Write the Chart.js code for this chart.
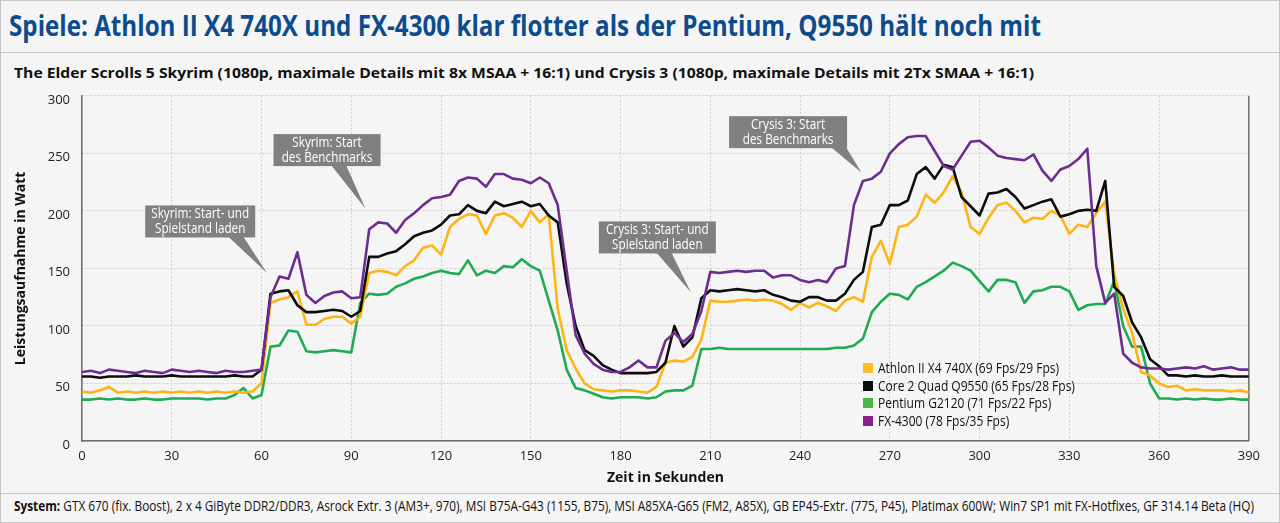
<!DOCTYPE html>
<html lang="de">
<head>
<meta charset="UTF-8">
<title>Leistungsaufnahme in Spielen</title>
<script src="https://cdn.jsdelivr.net/npm/chart.js@4"></script>
<style>
  html, body { margin:0; padding:0; }
  body { width:1280px; height:523px; background:#f5f5f5; font-family:'Open Sans', sans-serif; overflow:hidden; position:relative; }
  .frame { position:absolute; left:0; top:0; width:1278px; height:521px; border:1px solid #c6c6c6; }
  .rule { position:absolute; left:0; width:1280px; height:1px; background:#c6c6c6; }
  .fit { position:absolute; white-space:nowrap; transform-origin:0 0; display:inline-block; }
  #title { left:9px; top:5px; font-weight:700; font-size:29px; line-height:40px; color:#0c4b8c; }
  #subtitle { left:14px; top:62px; font-weight:700; font-size:15px; line-height:20px; color:#111; }
  #footer { left:14px; top:496px; font-size:14px; line-height:20px; color:#111; }
  #footer b { font-weight:700; }
  #chartBox { position:absolute; left:0; top:76px; width:1267px; height:414px; }
  #legend { position:absolute; left:863px; top:359px; font-size:14px; color:#111; }
  #legend .row { height:17.7px; line-height:17.7px; white-space:nowrap; position:relative; }
  #legend .sw { position:absolute; left:0; top:4px; width:10px; height:10px; }
  #legend .txt { position:absolute; left:15px; top:0; display:inline-block; transform-origin:0 50%; }
</style>
</head>
<body>
<div class="frame"></div>
<div class="rule" style="top:52px"></div>
<div class="rule" style="top:493px"></div>
<div id="title" class="fit">Spiele: Athlon II X4 740X und FX-4300 klar flotter als der Pentium, Q9550 hält noch mit</div>
<div id="subtitle" class="fit">The Elder Scrolls 5 Skyrim (1080p, maximale Details mit 8x MSAA + 16:1) und Crysis 3 (1080p, maximale Details mit 2Tx SMAA + 16:1)</div>
<div id="chartBox"><canvas id="chart" width="1267" height="414"></canvas></div>
<div id="legend"></div>
<div id="footer" class="fit"><b>System:</b> GTX 670 (fix. Boost), 2 x 4 GiByte DDR2/DDR3, Asrock Extr. 3 (AM3+, 970), MSI B75A-G43 (1155, B75), MSI A85XA-G65 (FM2, A85X), GB EP45-Extr. (775, P45), Platimax 600W; Win7 SP1 mit FX-Hotfixes, GF 314.14 Beta (HQ)</div>

<script>
const times = [
  0, 3, 6, 9, 12, 15, 18, 21, 24, 27,
  30, 33, 36, 39, 42, 45, 48, 51, 54, 57,
  60, 63, 66, 69, 72, 75, 78, 81, 84, 87,
  90, 93, 96, 99, 102, 105, 108, 111, 114, 117,
  120, 123, 126, 129, 132, 135, 138, 141, 144, 147,
  150, 153, 156, 159, 162, 165, 168, 171, 174, 177,
  180, 183, 186, 189, 192, 195, 198, 201, 204, 207,
  210, 213, 216, 219, 222, 225, 228, 231, 234, 237,
  240, 243, 246, 249, 252, 255, 258, 261, 264, 267,
  270, 273, 276, 279, 282, 285, 288, 291, 294, 297,
  300, 303, 306, 309, 312, 315, 318, 321, 324, 327,
  330, 333, 336, 339, 342, 345, 348, 351, 354, 357,
  360, 363, 366, 369, 372, 375, 378, 381, 384, 387,
  390
];

const athlon = [
  43, 42, 44, 47, 42, 43, 42, 43, 42, 43,
  42, 43, 42, 43, 42, 43, 42, 43, 42, 43,
  50, 120, 123, 125, 130, 101, 101, 106, 108, 108,
  102, 108, 146, 148, 147, 144, 152, 157, 168, 170,
  162, 186, 193, 197, 196, 180, 196, 198, 194, 186,
  200, 190, 197, 115, 79, 63, 50, 45, 44, 43,
  44, 44, 43, 42, 47, 68, 70, 69, 73, 88,
  122, 121, 121, 122, 123, 122, 123, 122, 119, 114,
  120, 116, 120, 117, 113, 122, 125, 121, 160, 174,
  154, 186, 188, 195, 214, 207, 216, 230, 216, 186,
  180, 194, 205, 207, 200, 190, 194, 193, 200, 196,
  180, 188, 186, 198, 208, 145, 115, 94, 60, 57,
  50, 47, 48, 44, 45, 44, 44, 44, 43, 44,
  42
];

const core2 = [
  56, 56, 55, 56, 56, 56, 57, 56, 56, 56,
  57, 56, 56, 56, 56, 56, 56, 57, 56, 56,
  62, 128, 130, 131, 118, 112, 112, 113, 114, 113,
  108, 113, 160, 160, 163, 165, 171, 178, 181, 183,
  188, 196, 197, 205, 200, 198, 208, 204, 206, 208,
  204, 206, 196, 190, 137, 100, 79, 74, 66, 62,
  59, 59, 59, 59, 60, 68, 100, 82, 90, 124,
  131, 130, 131, 132, 131, 130, 131, 127, 125, 122,
  121, 125, 125, 122, 122, 128, 140, 147, 186, 188,
  205, 205, 209, 232, 238, 228, 240, 238, 212, 204,
  196, 215, 216, 219, 212, 202, 205, 208, 210, 195,
  197, 200, 201, 200, 226, 134, 126, 103, 90, 71,
  65, 57, 57, 56, 57, 56, 56, 57, 56, 56,
  56
];

const pentium = [
  36, 36, 37, 36, 37, 36, 36, 37, 36, 36,
  37, 37, 37, 37, 36, 37, 37, 40, 46, 37,
  40, 82, 83, 96, 95, 78, 77, 78, 79, 78,
  77, 120, 128, 127, 128, 134, 137, 141, 143, 146,
  148, 146, 145, 157, 144, 148, 146, 152, 151, 158,
  152, 148, 122, 96, 62, 46, 44, 41, 38, 37,
  38, 38, 38, 37, 38, 43, 44, 44, 48, 80,
  80, 81, 80, 80, 80, 80, 80, 80, 80, 80,
  80, 80, 80, 80, 81, 81, 83, 89, 112, 121,
  128, 127, 123, 134, 138, 143, 148, 155, 152, 148,
  139, 130, 140, 140, 138, 120, 130, 131, 134, 134,
  130, 114, 118, 119, 119, 139, 100, 82, 82, 50,
  37, 37, 36, 37, 36, 37, 36, 36, 37, 36,
  36
];

const fx4300 = [
  60, 61, 59, 62, 61, 60, 59, 61, 60, 59,
  62, 61, 60, 61, 60, 59, 61, 60, 60, 61,
  62, 125, 143, 141, 164, 127, 120, 126, 129, 130,
  124, 125, 184, 190, 189, 181, 192, 198, 205, 211,
  212, 214, 226, 229, 228, 221, 232, 232, 228, 227,
  224, 229, 224, 205, 148, 92, 76, 67, 62, 60,
  60, 64, 70, 64, 64, 87, 94, 86, 93, 113,
  147, 146, 147, 148, 147, 148, 148, 142, 144, 144,
  140, 138, 140, 138, 150, 152, 205, 226, 228, 234,
  250, 258, 264, 265, 265, 252, 239, 236, 248, 260,
  261, 255, 248, 246, 245, 244, 249, 235, 226, 236,
  239, 245, 254, 152, 120, 128, 76, 68, 64, 63,
  63, 62, 63, 64, 63, 65, 62, 63, 64, 62,
  62
];

const seriesNames = [
  'Athlon II X4 740X (69 Fps/29 Fps)',
  'Core 2 Quad Q9550 (65 Fps/28 Fps)',
  'Pentium G2120 (71 Fps/22 Fps)',
  'FX-4300 (78 Fps/35 Fps)'
];
const seriesValues = [athlon, core2, pentium, fx4300];
const lineColors = ['#fdb515', '#0d0d0d', '#1fab4f', '#6b2d90'];
const legendColors = ['#fbbc2a', '#0d0d0d', '#46b748', '#8a2189'];
const drawOrder = [2, 1, 3, 0]; // Chart.js: niedrigere order = weiter oben

const yTicks = [0, 50, 100, 150, 200, 250, 300];
const xTicks = [0, 30, 60, 90, 120, 150, 180, 210, 240, 270, 300, 330, 360, 390];

// Hinweisboxen (Positionen in Datenkoordinaten: Sekunde, Watt)
const callouts = [
  { lines: ['Skyrim: Start- und', 'Spielstand laden'], box: [39.5, 190.8], w: 110, tip: [61.9, 145.7], base: 36 },
  { lines: ['Skyrim: Start', 'des Benchmarks'], box: [81.9, 252.8], w: 107, tip: [94.7, 202.1], base: 12 },
  { lines: ['Crysis 3: Start- und', 'Spielstand laden'], box: [192.3, 176.9], w: 117, tip: [203.5, 129.2], base: 7 },
  { lines: ['Crysis 3: Start', 'des Benchmarks'], box: [236.0, 268.4], w: 118, tip: [260.5, 233.3], base: 51 }
];

const calloutPlugin = {
  id: 'callouts',
  afterDatasetsDraw(chart) {
    const { ctx, scales: { x, y } } = chart;
    ctx.save();
    callouts.forEach(c => {
      const bx = x.getPixelForValue(c.box[0]);
      const by = y.getPixelForValue(c.box[1]);
      const tx = x.getPixelForValue(c.tip[0]);
      const ty = y.getPixelForValue(c.tip[1]);
      const h = 32;
      const left = bx - c.w / 2, top = by - h / 2;
      ctx.fillStyle = '#808080';
      ctx.beginPath();
      ctx.moveTo(bx + c.base - 8, top + h - 1);
      ctx.lineTo(tx, ty);
      ctx.lineTo(bx + c.base + 7, top + h - 1);
      ctx.closePath();
      ctx.fill();
      ctx.fillRect(left, top, c.w, h);
      ctx.fillStyle = '#ffffff';
      ctx.font = '14px "Open Sans", sans-serif';
      ctx.textAlign = 'center';
      ctx.textBaseline = 'middle';
      c.lines.forEach((line, i) => {
        ctx.save();
        ctx.translate(bx, top + 9 + i * 15);
        ctx.scale(0.84, 1);
        ctx.fillText(line, 0, 0);
        ctx.restore();
      });
    });
    ctx.restore();
  }
};

const frameLinePlugin = {
  id: 'frameLine',
  beforeDatasetsDraw(chart) {
    const { ctx, chartArea: a } = chart;
    ctx.save();
    ctx.setLineDash([]);
    ctx.strokeStyle = '#6e6e6e';
    ctx.lineWidth = 1.5;
    ctx.beginPath();
    ctx.moveTo(a.right, a.top);
    ctx.lineTo(a.right, a.bottom);
    ctx.stroke();
    ctx.restore();
  }
};

const datasets = seriesValues.map((vals, i) => ({
  label: seriesNames[i],
  data: times.map((t, k) => ({ x: t, y: vals[k] })),
  borderColor: lineColors[i],
  backgroundColor: lineColors[i],
  borderWidth: 2.6,
  pointRadius: 0,
  tension: 0,
  borderJoinStyle: 'round',
  order: drawOrder[i]
}));

const tickFont = { family: "'Open Sans', sans-serif", size: 13 };
const titleFont = { family: "'Open Sans', sans-serif", size: 14, weight: 'bold' };

new Chart(document.getElementById('chart'), {
  type: 'line',
  data: { datasets },
  options: {
    responsive: false,
    animation: false,
    devicePixelRatio: 1,
    layout: { padding: { top: 10, right: 14, left: 0, bottom: 0 } },
    plugins: { legend: { display: false }, tooltip: { enabled: false } },
    scales: {
      x: {
        type: 'linear',
        min: 0, max: 390,
        afterBuildTicks: s => { s.ticks = xTicks.map(v => ({ value: v })); },
        afterFit: s => { s.height = 49; },
        ticks: { font: tickFont, color: '#222', padding: 7, maxRotation: 0 },
        grid: { color: '#cdcdcd', drawTicks: false, tickLength: 0 },
        border: { display: true, color: '#6e6e6e', width: 1.5, dash: [2, 2] },
        title: { display: true, text: 'Zeit in Sekunden', font: titleFont, color: '#111', padding: { top: 0, bottom: 4 } }
      },
      y: {
        min: 0, max: 300,
        afterBuildTicks: s => { s.ticks = yTicks.map(v => ({ value: v })); },
        afterFit: s => { s.width = 82; },
        ticks: { font: tickFont, color: '#222', padding: 12, labelOffset: 4 },
        grid: { color: '#cdcdcd', drawTicks: false, tickLength: 0 },
        border: { display: true, color: '#6e6e6e', width: 1.5, dash: [2, 2] },
        title: { display: true, text: 'Leistungsaufnahme in Watt', font: titleFont, color: '#111', padding: { top: 13, bottom: 0 } }
      }
    }
  },
  plugins: [frameLinePlugin, calloutPlugin]
});

// Legende
const legend = document.getElementById('legend');
seriesNames.forEach((name, i) => {
  const row = document.createElement('div');
  row.className = 'row';
  row.innerHTML = '<span class="sw" style="background:' + legendColors[i] + '"></span><span class="txt">' + name + '</span>';
  legend.appendChild(row);
});
const txts = legend.querySelectorAll('.txt');
const squeeze = 181 / txts[0].getBoundingClientRect().width;
txts.forEach(t => { t.style.transform = 'scaleX(' + squeeze + ')'; });

// Texte auf Breite bringen (Vorlage nutzt eine schmale Schrift)
function fitWidth(id, target) {
  const el = document.getElementById(id);
  el.style.transform = 'scaleX(' + (target / el.getBoundingClientRect().width) + ')';
}
fitWidth('title', 1032);
fitWidth('subtitle', 1020);
fitWidth('footer', 1240);
</script>
</body>
</html>
